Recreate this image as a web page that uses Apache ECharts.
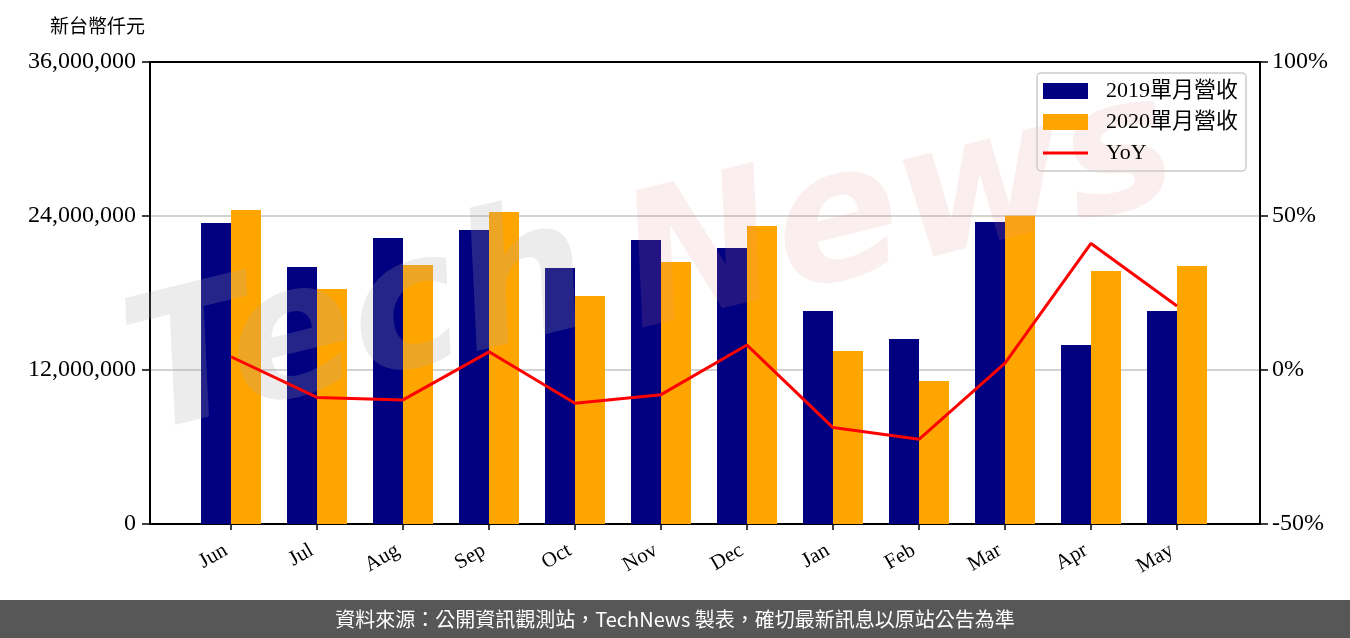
<!DOCTYPE html>
<html>
<head>
<meta charset="utf-8">
<script src="https://cdn.jsdelivr.net/npm/echarts@6/dist/echarts.min.js"></script>
<style>
html,body{margin:0;padding:0;background:#fff;}
#chart{width:1350px;height:638px;}
</style>
</head>
<body>
<div id="chart"></div>
<script>
const months = ['Jun','Jul','Aug','Sep','Oct','Nov','Dec','Jan','Feb','Mar','Apr','May'];
const rev2019 = [23450000, 20030000, 22290000, 22910000, 19950000, 22130000, 21510000, 16600000, 14420000, 23530000, 13950000, 16600000];
const rev2020 = [24470000, 18310000, 20180000, 24310000, 17770000, 20420000, 23220000, 13480000, 11140000, 24020000, 19710000, 20100000];
const yoy = [4.3, -8.9, -9.7, 5.9, -10.8, -8.0, 8.1, -18.7, -22.5, 2.2, 41.1, 20.8];
const leftTicks = ['0', '12,000,000', '24,000,000', '36,000,000'];
const names = ['2019單月營收', '2020單月營收', 'YoY'];

const serif = '"Liberation Serif", "Noto Sans CJK TC", serif';
const idx = months.map((m, i) => i);

const chart = echarts.init(document.getElementById('chart'), null, {renderer: 'canvas'});
const option = {
  animation: false,
  backgroundColor: '#fff',
  textStyle: {fontFamily: serif},
  grid: {left: 150, right: 90, top: 62, bottom: 114, containLabel: false},
  legend: {
    orient: 'vertical',
    right: 104,
    top: 73,
    itemWidth: 45,
    itemHeight: 16,
    itemGap: 9,
    padding: [7, 8, 7, 6],
    borderColor: '#cccccc',
    borderWidth: 1.5,
    borderRadius: 4,
    textStyle: {fontFamily: serif, fontSize: 22, color: '#000', padding: [0, 0, 0, 13]},
    data: [
      {name: names[0], icon: 'rect'},
      {name: names[1], icon: 'rect'},
      {name: names[2], icon: 'path://M0,0L45,0L45,3L0,3Z', itemStyle: {color: '#FF0000'}}
    ]
  },
  xAxis: [{
    type: 'value',
    min: -0.942,
    max: 11.965,
    position: 'bottom',
    axisLine: {show: true, onZero: false, lineStyle: {color: '#000', width: 2}},
    axisTick: {show: true, customValues: idx, length: 6, lineStyle: {color: '#000', width: 1.5}},
    axisLabel: {
      customValues: idx,
      rotate: 30,
      fontFamily: serif,
      fontSize: 21,
      color: '#000',
      margin: 22,
      padding: [0, 6, 0, 0],
      formatter: v => months[Math.round(v)]
    },
    splitLine: {show: false}
  }, {
    type: 'value',
    min: -0.942,
    max: 11.965,
    position: 'top',
    axisLine: {show: true, onZero: false, lineStyle: {color: '#000', width: 2}},
    axisTick: {show: false},
    axisLabel: {show: false},
    splitLine: {show: false}
  }],
  yAxis: [{
    type: 'value',
    min: 0,
    max: 36000000,
    interval: 12000000,
    position: 'left',
    name: '新台幣仟元',
    nameLocation: 'end',
    nameGap: 24,
    nameTextStyle: {fontFamily: serif, fontSize: 19, color: '#000', align: 'right', padding: [0, 5, 0, 0]},
    axisLine: {show: true, onZero: false, lineStyle: {color: '#000', width: 2}},
    axisTick: {show: true, length: 8, lineStyle: {color: '#000', width: 1.5}},
    axisLabel: {fontFamily: serif, fontSize: 24, color: '#000', margin: 14,
      formatter: v => leftTicks[Math.round(v / 12000000)]},
    splitLine: {show: true, lineStyle: {color: '#d3d3d3', width: 2}}
  }, {
    type: 'value',
    min: -50,
    max: 100,
    interval: 50,
    position: 'right',
    axisLine: {show: true, onZero: false, lineStyle: {color: '#000', width: 2}},
    axisTick: {show: true, length: 8, lineStyle: {color: '#000', width: 1.5}},
    axisLabel: {fontFamily: serif, fontSize: 24, color: '#000', margin: 12, formatter: '{value}%'},
    splitLine: {show: false}
  }],
  series: [{
    name: names[0],
    type: 'bar',
    xAxisIndex: 0,
    yAxisIndex: 0,
    barWidth: 30,
    barGap: '0%',
    itemStyle: {color: '#000080'},
    data: rev2019.map((v, i) => [i, v]),
    z: 2
  }, {
    name: names[1],
    type: 'bar',
    xAxisIndex: 0,
    yAxisIndex: 0,
    barWidth: 30,
    barGap: '0%',
    itemStyle: {color: '#FFA500'},
    data: rev2020.map((v, i) => [i, v]),
    z: 2
  }, {
    name: names[2],
    type: 'line',
    xAxisIndex: 0,
    yAxisIndex: 1,
    symbol: 'none',
    showSymbol: false,
    lineStyle: {color: '#FF0000', width: 3},
    itemStyle: {color: '#FF0000'},
    data: yoy.map((v, i) => [i, v]),
    z: 5
  }],
  graphic: [
    {
      type: 'text',
      x: 360, y: 330,
      rotation: 0.24,
      z: 3,
      style: {
        text: 'Tech',
        font: 'italic bold 185px "DejaVu Sans"',
        fill: 'rgba(170,170,170,0.22)',
        align: 'center',
        verticalAlign: 'middle'
      }
    },
    {
      type: 'text',
      x: 900, y: 215,
      rotation: 0.24,
      z: 3,
      style: {
        text: 'News',
        font: 'italic bold 185px "DejaVu Sans"',
        fill: 'rgba(225,140,140,0.15)',
        align: 'center',
        verticalAlign: 'middle'
      }
    },
    {
      type: 'rect',
      left: 0, top: 600,
      shape: {x: 0, y: 0, width: 1350, height: 38},
      style: {fill: '#575757'},
      z: 10
    },
    {
      type: 'text',
      x: 675, y: 619,
      z: 11,
      style: {
        text: '資料來源：公開資訊觀測站，TechNews 製表，確切最新訊息以原站公告為準',
        font: '20px "Noto Sans CJK TC"',
        fill: '#ffffff',
        align: 'center',
        verticalAlign: 'middle'
      }
    }
  ]
};
chart.setOption(option);
</script>
</body>
</html>
